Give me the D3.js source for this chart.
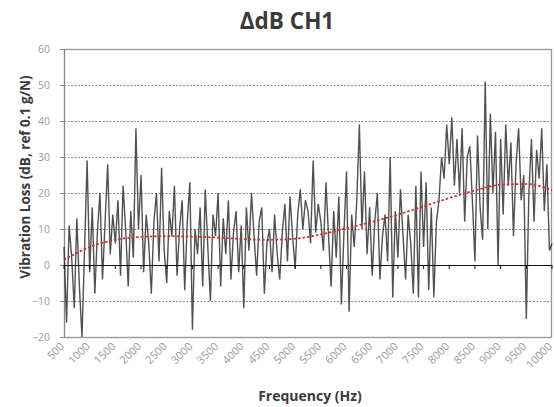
<!DOCTYPE html>
<html><head><meta charset="utf-8">
<script src="https://cdn.jsdelivr.net/npm/d3@7"></script>
<style>
body{margin:0;background:#fff;}
svg{display:block;font-family:"Open Sans",sans-serif;}
</style></head>
<body><svg id="c" width="554" height="407"></svg>
<script>
const title = "ΔdB CH1";
const xTitle = "Frequency (Hz)";
const yTitle = "Vibration Loss (dB, ref 0.1 g/N)";
const freqStart = 500, freqStep = 50;
const values = [
 5, -16, 11, 2, -12, 13, -6, -20, 4, 29,
 -2, 16, -8, 9, 20, -4, 12, 28, 3, 14,
 6, 18, -3, 22, 10, -6, 15, 2, 38, 10,
 25, -2, 14, 6, -8, 12, 20, 1, 27, 4,
 -5, 15, 8, 22, -3, 10, 18, -7, 12, 23,
 -18, 10, 3, 16, -6, 21, 5, -10, 14, 8,
 20, -6, 13, 3, 18, -4, 9, 15, -2, 11,
 -12, 16, 4, 20, 8, -3, 12, 16, -8, 6,
 10, -2, 14, 3, -4, 9, 17, 1, 19, 8,
 -1, 14, 21, 10, 18, 15, 6, 29, 9, 17,
 12, 4, 23, 8, -6, 15, 2, 19, -11, 9,
 26, -13, 14, 5, 18, 39, 10, 26, 3, 16,
 -3, 12, 20, -4, 8, 14, 1, 30, -9, 15,
 2, 21, 8, -4, 14, 6, -8, 22, -9, 26,
 5, 23, -7, 16, -9, 12, 18, 30, 24, 39,
 28, 41, 22, 35, 20, 38, 12, 30, 33, 18,
 1, 36, 16, 7, 51, 10, 42, 20, 37, 0,
 35, 14, 39, 22, 34, 8, 28, 38, 18, 25,
 -15, 20, 35, 12, 32, 24, 38, 15, 28, 4,
 6
];
const trendFreq = [500,1000,1500,2000,2500,3000,3500,4000,4500,5000,5500,6000,6500,7000,7500,8000,8500,9000,9500,10000];
const trendVals = [1.4,5.0,7.0,7.8,8.0,7.9,7.6,7.2,7.0,7.3,8.5,10.2,12.0,14.0,16.3,18.6,20.7,22.3,22.5,20.8];
const xTicks = [500,1000,1500,2000,2500,3000,3500,4000,4500,5000,5500,6000,6500,7000,7500,8000,8500,9000,9500,10000];
const yTicks = [-20,-10,0,10,20,30,40,50,60];

const svg = d3.select("#c");
const L=64, R=552, T=49, B=337;
const x = d3.scaleLinear().domain([500,10000]).range([L,R]);
const y = d3.scaleLinear().domain([-20,60]).range([B,T]);
const data = values.map((v,i)=>({f:freqStart+freqStep*i, v}));

// grid
svg.append("g").selectAll("line").data(yTicks.filter(t=>t!==0 && t!==-20 && t!==60)).join("line")
 .attr("x1",L).attr("x2",R).attr("y1",d=>y(d)+0.5).attr("y2",d=>y(d)+0.5)
 .attr("stroke","#8a8a8a").attr("stroke-width",1.1).attr("stroke-dasharray","2,1.5");

// frame
svg.append("rect").attr("x",L+0.5).attr("y",T+0.5).attr("width",R-L-1).attr("height",B-T)
 .attr("fill","none").attr("stroke","#9a9a9a").attr("stroke-width",1.4);

// y axis
const ya = svg.append("g").attr("transform",`translate(${L},0)`)
 .call(d3.axisLeft(y).tickValues(yTicks).tickSize(4).tickPadding(10));
ya.select(".domain").attr("stroke","#888");
ya.selectAll(".tick line").attr("stroke","#888");
ya.selectAll("text").attr("fill","#9a9a9a").style("font-size","10.5px").style("font-family","Open Sans");

// data line
svg.append("path").datum(data)
 .attr("d",d3.line().x(d=>x(d.f)).y(d=>y(d.v)))
 .attr("fill","none").attr("stroke","#262626").attr("stroke-width",1.4).attr("stroke-opacity",0.8);

// zero axis line with ticks
svg.append("line").attr("x1",L).attr("x2",R).attr("y1",y(0)+0.5).attr("y2",y(0)+0.5)
 .attr("stroke","#111").attr("stroke-width",1.2);
svg.append("g").selectAll("line").data(xTicks).join("line")
 .attr("x1",d=>x(d)).attr("x2",d=>x(d)).attr("y1",y(0)).attr("y2",y(0)+4)
 .attr("stroke","#111").attr("stroke-width",1);

// trend
svg.append("path").datum(trendFreq.map((f,i)=>({f,v:trendVals[i]})))
 .attr("d",d3.line().curve(d3.curveMonotoneX).x(d=>x(d.f)).y(d=>y(d.v)))
 .attr("fill","none").attr("stroke","#d42a2a").attr("stroke-width",1.7).attr("stroke-dasharray","2.5,2");

// x labels
svg.append("g").selectAll("text").data(xTicks).join("text")
 .attr("transform",d=>`translate(${x(d)+1},${B+10}) rotate(-45)`)
 .attr("text-anchor","end").attr("fill","#9a9a9a").style("font-size","11px")
 .text(d=>d);

// titles
svg.append("text").attr("x",287).attr("y",29).attr("text-anchor","middle")
 .attr("fill","#3a3a3a").style("font-size","22.5px").style("font-weight","bold").text(title);
svg.append("text").attr("x",310).attr("y",401).attr("text-anchor","middle")
 .attr("fill","#3a3a3a").style("font-size","14px").style("font-weight","bold").text(xTitle);
svg.append("text").attr("transform","translate(30,177) rotate(-90)").attr("text-anchor","middle")
 .attr("fill","#3a3a3a").style("font-size","13.5px").style("font-weight","bold").text(yTitle);
</script></body></html>
